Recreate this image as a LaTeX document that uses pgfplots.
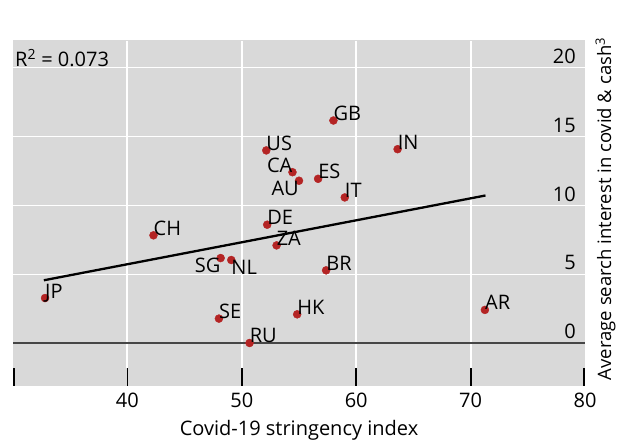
\documentclass[border=0pt]{standalone}
\usepackage{fontspec}
\setmainfont{Open Sans}
\usepackage{pgfplots}
\pgfplotsset{compat=1.18}

\definecolor{panel}{RGB}{217,217,217}
\definecolor{dot}{RGB}{180,36,36}
\definecolor{zeroline}{RGB}{70,70,70}
\newcommand{\fs}{\fontsize{20bp}{24bp}\selectfont}
\newcommand{\fsy}{\fontsize{18.5bp}{22bp}\selectfont}

\pgfplotsset{
  vgrid/.style={white, line width=2bp, forget plot},
  xtickmark/.style={black, line width=1.8bp, forget plot},
  country/.style={only marks, mark=*, mark size=4bp, color=dot,
    mark options={fill=dot, draw=dot},
    point meta=explicit symbolic, nodes near coords,
    every node near coord/.append style={font=\fs, anchor=#1, inner sep=0pt, text=black}},
}

\begin{document}
\begin{tikzpicture}
\begin{axis}[
    at={(13bp,55bp)}, anchor=south west,
    scale only axis, width=572bp, height=346bp,
    xmin=30, xmax=80, ymin=-3.1, ymax=22,
    xtick={40,50,...,80}, ytick={0,5,...,20},
    xtick pos=left, ytick pos=right, yticklabel pos=right,
    major tick style={draw=none},
    xmajorgrids=false, ymajorgrids=true,
    major grid style={white, line width=1.5bp},
    axis line style={draw=none},
    axis background/.style={fill=panel},
    /pgf/number format/assume math mode=true,
    tick label style={font=\fs, inner sep=0pt},
    xticklabel style={anchor=north, yshift=-7bp},
    yticklabel style={anchor=south east, xshift=-9bp, yshift=4bp},
    xlabel={Covid-19 stringency index},
    xlabel style={font=\fs, at={(axis description cs:0.5,0)}, anchor=north, yshift=-34bp, inner sep=0pt},
    ylabel={Average search interest in covid \& cash\textsuperscript{3}},
    ylabel style={font=\fsy, at={(axis description cs:1.0455,0.512)}, anchor=base, inner sep=0pt},
]
% vertical grid lines, stopping above the tick marks
\addplot[vgrid] coordinates {(40,-1.8) (40,21.9)};
\addplot[vgrid] coordinates {(50,-1.8) (50,21.9)};
\addplot[vgrid] coordinates {(60,-1.8) (60,21.9)};
\addplot[vgrid] coordinates {(70,-1.8) (70,21.9)};
% tick marks along the bottom
\addplot[xtickmark] coordinates {(30.08,-3.1) (30.08,-1.8)};
\addplot[xtickmark] coordinates {(40,-3.1) (40,-1.8)};
\addplot[xtickmark] coordinates {(50,-3.1) (50,-1.8)};
\addplot[xtickmark] coordinates {(60,-3.1) (60,-1.8)};
\addplot[xtickmark] coordinates {(70,-3.1) (70,-1.8)};
\addplot[xtickmark] coordinates {(79.92,-3.1) (79.92,-1.8)};
\addplot[zeroline, line width=1.6bp] coordinates {(30,0) (80,0)};
\addplot[black, line width=2.3bp] coordinates {(32.7,4.57) (71.3,10.72)};
% labels above right of the dot
\addplot[country=base west] coordinates {
  (32.8,3.28) [JP] (42.28,7.83) [CH] (48.0,1.79) [SE] (50.68,0.02) [RU]
  (52.22,8.6) [DE] (53.04,7.1) [ZA] (52.14,13.99) [US] (54.84,2.1) [HK]
  (58.01,16.16) [GB] (63.62,14.08) [IN] (56.67,11.93) [ES] (59.0,10.58) [IT]
  (57.37,5.29) [BR] (71.25,2.42) [AR]
};
\addplot[country=north east] coordinates {(48.15,6.18) [SG] (55.0,11.79) [AU]};
\addplot[country=north west] coordinates {(49.08,6.04) [NL]};
\addplot[country=base east] coordinates {(54.43,12.41) [CA]};
\node[font=\fs, anchor=base west, inner sep=0pt, xshift=2bp, yshift=-26.7bp] at (rel axis cs:0,1) {R\textsuperscript{2} = 0.073};
\end{axis}
\pgfresetboundingbox
\useasboundingbox (0,0) rectangle (621bp,441bp);
\end{tikzpicture}
\end{document}
